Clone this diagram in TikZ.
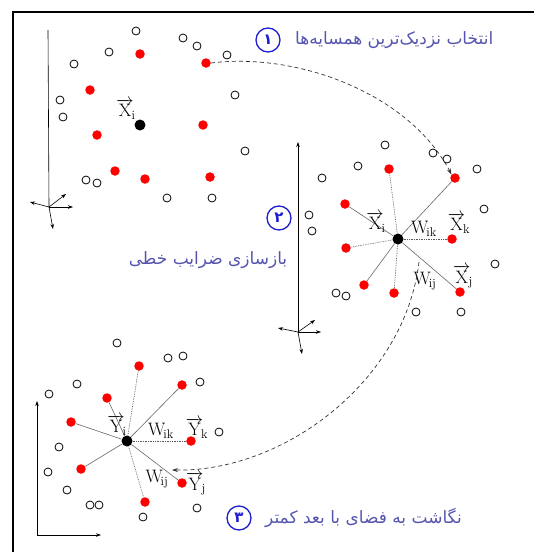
\documentclass[tikz,border=0pt]{standalone}
\usepackage{fontspec}
\usetikzlibrary{arrows.meta}
\TeXXeTstate=1
\newfontfamily\arabicfont[Script=Arabic]{DejaVu Sans}
\definecolor{ptext}{RGB}{85,85,175}
\definecolor{pcirc}{RGB}{30,30,210}
\begin{document}
\begin{tikzpicture}[x=1pt,y=-1pt,
  opn/.style={circle,draw=black,line width=0.8pt,minimum size=8pt,inner sep=0pt},
  rdot/.style={circle,fill=red,minimum size=9.5pt,inner sep=0pt},
  ctr/.style={circle,fill=black,minimum size=11pt,inner sep=0pt},
  nb/.style={gray!80!black,line width=0.6pt},
  nbd/.style={gray!70!black,line width=0.7pt,densely dotted},
  axis/.style={black,line width=0.6pt},
  ax/.style={black,line width=0.6pt,-{Stealth[length=5pt,width=3.5pt]}},
  lab/.style={inner sep=0pt,font=\fontsize{18}{20}\selectfont},
  ptxt/.style={text=ptext,inner sep=0pt,font=\arabicfont\fontsize{17}{19}\selectfont},
  num/.style={circle,draw=pcirc,line width=1.3pt,minimum size=24pt,inner sep=0pt,text=pcirc,font=\arabicfont\bfseries\fontsize{15}{17}\selectfont},
  arc/.style={black!80,line width=0.7pt,dashed,dash pattern=on 4pt off 3pt,-{Stealth[length=6pt,width=4pt]}}]
\useasboundingbox (0,0) rectangle (534,552);
% frame
\draw[line width=2pt] (13,552) -- (13,12) -- (534,12);

% ---------- cluster 1 ----------
\coordinate (o1) at (49,207);
\coordinate (t1) at (48,30);
\draw[axis] (t1) -- (o1);
\coordinate (a1r) at (73,207);
\coordinate (a1l) at (30,202);
\coordinate (a1u) at (66,194);
\coordinate (a1d) at (53,229);
\draw[ax] (o1) -- (a1r);
\draw[ax] (o1) -- (a1l);
\draw[ax] (o1) -- (a1u);
\draw[ax] (o1) -- (a1d);
\foreach \p [count=\k] in {(136,31),(183,38),(197,46),(109,52),(74,64),(227,55),(60,100),(63,117),(235,95),(245,151),(86,180),(97,183),(167,198),(212,198)}
  \node[opn] (c1o\k) at \p {};
\foreach \p [count=\k] in {(140,54),(206,63),(90,90),(97,135),(203,125),(115,171),(145,179),(210,177)}
  \node[rdot] (c1r\k) at \p {};
\node[ctr] (c1c) at (140,125) {};
\node[lab] (c1l) at (126,109) {$\overrightarrow{\mathrm{X}}_{\!\mathrm{i}}$};

\node[num] (n1) at (268,40) {\beginR ۱\endR};
\node[ptxt,anchor=west] (t1txt) at (295,40) {\beginR انتخاب نزدیک‌ترین همسایه‌ها\endR};

% ---------- cluster 2 ----------
\coordinate (o2) at (298,332);
\coordinate (t2) at (298,142);
\draw[ax] (o2) -- (t2);
\coordinate (a2r) at (321,332);
\coordinate (a2l) at (278,328);
\coordinate (a2u) at (315,320);
\coordinate (a2d) at (302,354);
\draw[ax] (o2) -- (a2r);
\draw[ax] (o2) -- (a2l);
\draw[ax] (o2) -- (a2u);
\draw[ax] (o2) -- (a2d);
\foreach \p [count=\k] in {(385,145),(433,153),(447,159),(358,166),(322,178),(477,169),(309,215),(312,231),(484,209),(495,264),(336,293),(346,296),(416,312),(461,312)}
  \node[opn] (c2o\k) at \p {};
\foreach \p [count=\k] in {(389,169),(455,178),(345,204),(452,239),(346,248),(364,285),(394,293),(460,292)}
  \node[rdot] (c2r\k) at \p {};
\node[ctr] (c2c) at (398,239) {};
\draw[nbd] (c2c) -- (c2r1);
\draw[nb] (c2c) -- (c2r2);
\draw[nb] (c2c) -- (c2r3);
\draw[nbd] (c2c) -- (c2r4);
\draw[nbd] (c2c) -- (c2r5);
\draw[nb] (c2c) -- (c2r6);
\draw[nbd] (c2c) -- (c2r7);
\draw[nb] (c2c) -- (c2r8);
\node[lab] (c2li) at (376,222) {$\overrightarrow{\mathrm{X}}_{\!\mathrm{i}}$};
\node[lab] (c2wk) at (424,229) {$\mathrm{W}_{\!\mathrm{ik}}$};
\node[lab] (c2lk) at (459,223) {$\overrightarrow{\mathrm{X}}_{\!\mathrm{k}}$};
\node[lab] (c2wj) at (425,281) {$\mathrm{W}_{\!\mathrm{ij}}$};
\node[lab] (c2lj) at (463,277) {$\overrightarrow{\mathrm{X}}_{\!\mathrm{j}}$};

\node[num] (n2) at (279,218) {\beginR ۲\endR};
\node[ptxt] (t2txt) at (208,260) {\beginR بازسازی ضرایب خطی\endR};

% ---------- cluster 3 ----------
\coordinate (o3) at (37,535);
\coordinate (t3) at (37,401);
\coordinate (r3) at (101,535);
\draw[ax] (o3) -- (t3);
\draw[ax] (o3) -- (r3);
\foreach \p [count=\k] in {(117,343),(168,358),(183,356),(77,384),(49,394),(200,382),(219,432),(59,447),(48,472),(67,490),(90,505),(99,505),(143,517),(197,508)}
  \node[opn] (c3o\k) at \p {};
\foreach \p [count=\k] in {(139,366),(182,385),(107,398),(71,422),(191,441),(81,469),(182,483),(145,502)}
  \node[rdot] (c3r\k) at \p {};
\node[ctr] (c3c) at (127,441) {};
\draw[nbd] (c3c) -- (c3r1);
\draw[nb] (c3c) -- (c3r2);
\draw[nb] (c3c) -- (c3r3);
\draw[nb] (c3c) -- (c3r4);
\draw[nbd] (c3c) -- (c3r5);
\draw[nb] (c3c) -- (c3r6);
\draw[nb] (c3c) -- (c3r7);
\draw[nbd] (c3c) -- (c3r8);
\node[lab] (c3li) at (117,425) {$\overrightarrow{\mathrm{Y}}_{\!\mathrm{i}}$};
\node[lab] (c3wk) at (161,431) {$\mathrm{W}_{\!\mathrm{ik}}$};
\node[lab] (c3lk) at (197,428) {$\overrightarrow{\mathrm{Y}}_{\!\mathrm{k}}$};
\node[lab] (c3wj) at (157,479) {$\mathrm{W}_{\!\mathrm{ij}}$};
\node[lab] (c3lj) at (196,484) {$\overrightarrow{\mathrm{Y}}_{\!\mathrm{j}}$};

\node[num] (n3) at (239,518) {\beginR ۳\endR};
\node[ptxt,anchor=west] (t3txt) at (265,518) {\beginR نگاشت به فضای با بعد کمتر\endR};

% ---------- dashed arcs ----------
\draw[arc] (c1r2.east) .. controls (300,52) and (410,95) .. (c2r2.north west);
\coordinate (s2) at (419,262);
\coordinate (e2) at (172,470);
\draw[arc] (s2) .. controls (405,380) and (285,472) .. (e2);
\end{tikzpicture}
\end{document}
